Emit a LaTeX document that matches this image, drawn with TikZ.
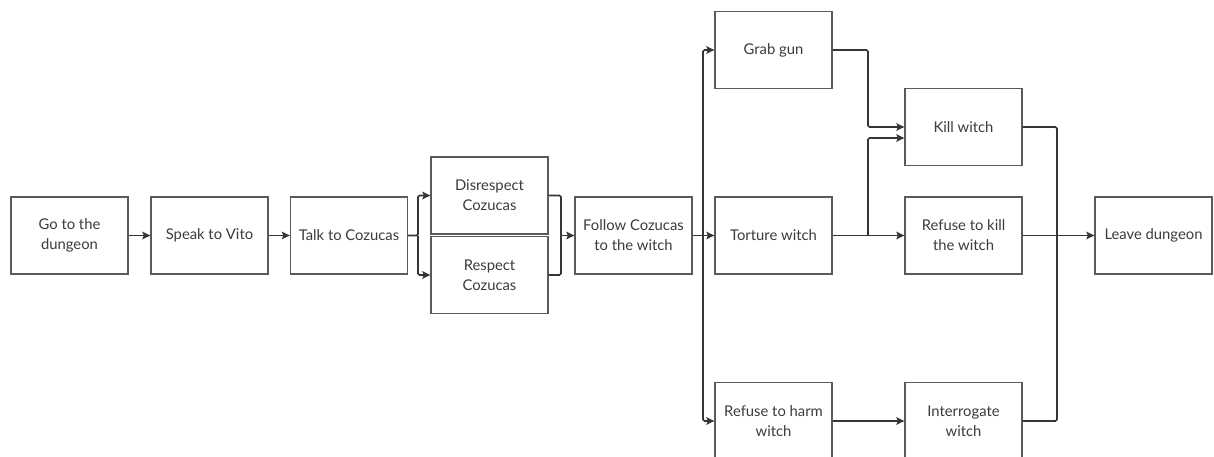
\documentclass[tikz,border=0pt]{standalone}
\usepackage{fontspec}
\setmainfont{Lato}
\usetikzlibrary{arrows.meta,calc}
\definecolor{boxline}{HTML}{5A5A5A}
\definecolor{wire}{HTML}{353535}
\definecolor{txt}{HTML}{3C3C3C}
\tikzset{
  stepbox/.style={draw=boxline, line width=1.3pt, fill=white, minimum width=117pt,
    minimum height=77pt, inner sep=2pt, align=center, text=txt,
    font=\fontsize{14.8pt}{20pt}\selectfont},
  wire/.style={draw=wire, line width=1.6pt, rounded corners=1.5pt},
  arr/.style={wire, -{Stealth[length=8pt,width=7.5pt,inset=1.5pt]}},
}
\begin{document}
\begin{tikzpicture}[x=1pt, y=-1pt]
\clip (0,0) rectangle (1214,456);
\fill[white] (0,0) rectangle (1214,456);

% boxes
\node[stepbox] (go) at (69.5,235.5) {Go to the\\dungeon};
\node[stepbox] (speak) at (209.5,235.5) {Speak to Vito};
\node[stepbox] (talk) at (349,235.5) {Talk to Cozucas};
\node[stepbox] (dis) at (489.5,195.5) {Disrespect\\Cozucas};
\node[stepbox] (resp) at (489.5,275) {Respect\\Cozucas};
\node[stepbox] (follow) at (633.5,235.5) {Follow Cozucas\\to the witch};
\node[stepbox] (grab) at (773.5,50) {Grab gun};
\node[stepbox] (torture) at (773.5,235.5) {Torture witch};
\node[stepbox] (harm) at (773.5,421) {Refuse to harm\\witch};
\node[stepbox] (kill) at (963.5,127) {Kill witch};
\node[stepbox] (refkill) at (963.5,235.5) {Refuse to kill\\the witch};
\node[stepbox] (inter) at (963.5,421) {Interrogate\\witch};
\node[stepbox] (leave) at (1153.5,235.5) {Leave dungeon};

% branch and merge points
\coordinate (split1) at (418,235.5);
\coordinate (merge1) at (561,235.5);
\coordinate (split2) at (703,235.5);
\coordinate (tor) at (868,235.5);
\coordinate (grabdown) at (868,50);
\coordinate (killin) at ($(kill.west)+(0,11)$);
\coordinate (exitcol) at (1057,127);

% connectors
\draw[arr] (go.east) -- (speak.west);
\draw[arr] (speak.east) -- (talk.west);
\draw[arr] (talk.east) -- (split1) |- (dis.west);
\draw[arr] (split1) |- (resp.west);
\draw[wire] (dis.east) -| (merge1);
\draw[wire] (resp.east) -| (merge1);
\draw[arr] (merge1) -- (follow.west);
\draw[wire] (follow.east) -- (split2);
\draw[arr] (split2) |- (grab.west);
\draw[arr] (split2) -- (torture.west);
\draw[arr] (split2) |- (harm.west);
\draw[arr] (grab.east) -- (grabdown) |- (kill.west);
\draw[arr] (torture.east) -- (refkill.west);
\draw[arr] (tor) |- (killin);
\draw[arr] (harm.east) -- (inter.west);
\draw[wire] (kill.east) -- (exitcol) |- (inter.east);
\draw[arr] (refkill.east) -- (leave.west);
\end{tikzpicture}
\end{document}
